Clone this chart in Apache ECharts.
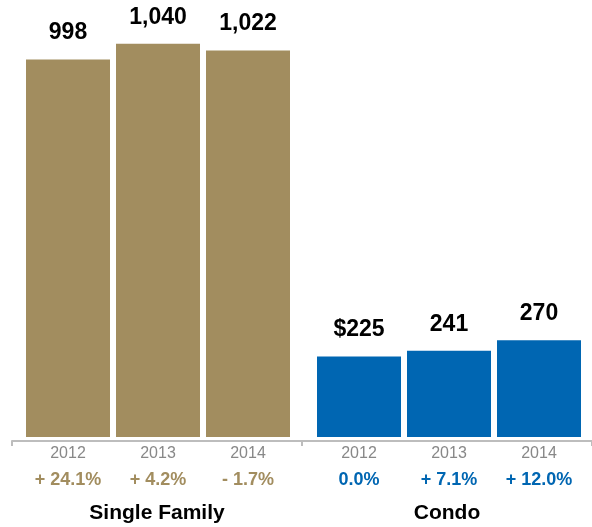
<!DOCTYPE html>
<html>
<head>
<meta charset="utf-8">
<script src="https://cdn.jsdelivr.net/npm/echarts@6/dist/echarts.min.js"></script>
<style>
  html, body { margin: 0; padding: 0; background: #fff; }
  #chart { width: 592px; height: 527px; }
</style>
</head>
<body>
<div id="chart"></div>
<script>
// Year categories shared by both property types
const years = ['2012', '2013', '2014'];
const groups = ['Single Family', 'Condo'];

// Single family values and year-over-year change
const singleFamilyValues = [998, 1040, 1022];
const singleFamilyChange = ['+ 24.1%', '+ 4.2%', '- 1.7%'];

// Condo values and year-over-year change
const condoValues = [225, 241, 270];
const condoChange = ['0.0%', '+ 7.1%', '+ 12.0%'];
const condoPrefix = ['$', '', ''];

const TAN = '#A28D5F';
const BLUE = '#0066B2';
const FONT = '"Liberation Sans", Arial, Helvetica, sans-serif';

function fmt(v) {
  return v.toLocaleString('en-US');
}

function yearAxis(gridIndex, changes, color) {
  return {
    type: 'category',
    gridIndex: gridIndex,
    data: years,
    axisLine: { show: false },
    axisTick: { show: false },
    axisLabel: {
      margin: 7,
      interval: 0,
      fontFamily: FONT,
      formatter: function (val, idx) {
        return '{y|' + val + '}\n{p|' + changes[idx] + '}';
      },
      rich: {
        y: { fontSize: 16, color: '#888888', lineHeight: 20, fontFamily: FONT },
        p: { fontSize: 18, fontWeight: 'bold', color: color, lineHeight: 32, fontFamily: FONT }
      }
    }
  };
}

function valueAxis(gridIndex, max) {
  return {
    type: 'value',
    gridIndex: gridIndex,
    min: 0,
    max: max,
    show: false,
    splitLine: { show: false }
  };
}

function valueLabel(formatter) {
  return {
    show: true,
    position: 'top',
    distance: 15,
    fontFamily: FONT,
    fontSize: 23,
    fontWeight: 'bold',
    color: '#000000',
    formatter: formatter
  };
}

const chart = echarts.init(document.getElementById('chart'), null, { renderer: 'canvas' });

chart.setOption({
  animation: false,
  backgroundColor: '#ffffff',
  grid: [
    { left: 23, width: 270, top: 21, bottom: 90 },   // single family bars
    { left: 314, width: 270, top: 43, bottom: 90 },  // condo bars
    { left: 12, width: 582, top: 40, bottom: 86 }    // shared baseline with group names
  ],
  xAxis: [
    yearAxis(0, singleFamilyChange, TAN),
    yearAxis(1, condoChange, BLUE),
    {
      type: 'category',
      gridIndex: 2,
      data: groups,
      axisLine: { show: true, lineStyle: { color: '#BDBDBD', width: 2 } },
      axisTick: { show: true, length: 5, lineStyle: { color: '#BDBDBD', width: 2 } },
      axisLabel: {
        margin: 62,
        fontFamily: FONT,
        fontSize: 21,
        fontWeight: 'bold',
        color: '#000000'
      }
    }
  ],
  yAxis: [
    valueAxis(0, 1100),
    valueAxis(1, 1100),
    valueAxis(2, 1100)
  ],
  series: [
    {
      name: 'Single Family',
      type: 'bar',
      xAxisIndex: 0,
      yAxisIndex: 0,
      data: singleFamilyValues,
      barWidth: 84,
      itemStyle: { color: TAN },
      label: valueLabel(function (p) { return fmt(p.value); })
    },
    {
      name: 'Condo',
      type: 'bar',
      xAxisIndex: 1,
      yAxisIndex: 1,
      data: condoValues,
      barWidth: 84,
      itemStyle: { color: BLUE },
      label: valueLabel(function (p) { return condoPrefix[p.dataIndex] + fmt(p.value); })
    }
  ]
});
</script>
</body>
</html>
